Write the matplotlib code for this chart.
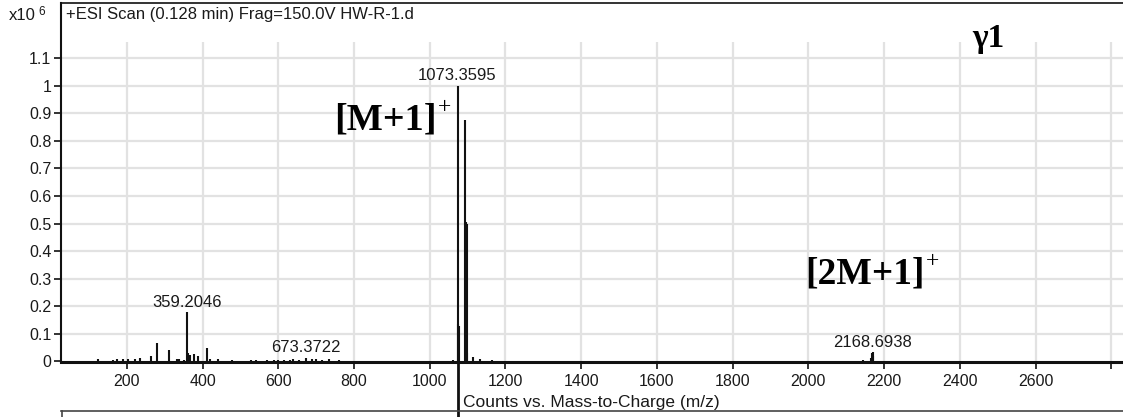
import matplotlib
matplotlib.use("Agg")
import matplotlib.pyplot as plt
from matplotlib.lines import Line2D

# ---- data ----
mz = [124, 164, 173, 190, 203, 221, 234, 265, 280, 312, 332, 337, 352, 359.2046, 361, 366,
      378, 388, 412, 420, 440, 478, 527, 540, 570, 588, 600, 615, 630, 640, 655, 673.3722,
      690, 700, 715, 735, 760,
      1062, 1073.3595, 1075.5, 1076.3, 1092.7, 1094.5, 1096.8, 1097.8, 1099, 1115, 1133, 1165,
      2145, 2166.5, 2168.6938, 2169.7, 2170.7]
intensity = [0.008, 0.006, 0.010, 0.008, 0.010, 0.008, 0.012, 0.020, 0.068, 0.040, 0.008, 0.010,
             0.006, 0.178, 0.030, 0.022, 0.028, 0.020, 0.050, 0.010, 0.010, 0.005, 0.004, 0.004,
             0.004, 0.005, 0.005, 0.006, 0.005, 0.008, 0.006, 0.012, 0.008, 0.010, 0.006, 0.008, 0.006,
             0.006, 1.000, 0.135, 0.130, 0.876, 0.040, 0.505, 0.500, 0.030, 0.016, 0.008, 0.006,
             0.005, 0.012, 0.030, 0.034, 0.020]
labelled_peaks = [359.2046, 673.3722, 1073.3595, 2168.6938]
x_ticks = [200, 400, 600, 800, 1000, 1200, 1400, 1600, 1800, 2000, 2200, 2400, 2600, 2800]
x_tick_labels = ["200", "400", "600", "800", "1000", "1200", "1400", "1600", "1800",
                 "2000", "2200", "2400", "2600", ""]
y_ticks = [0, 0.1, 0.2, 0.3, 0.4, 0.5, 0.6, 0.7, 0.8, 0.9, 1.0, 1.1]
y_tick_labels = ["0", "0.1", "0.2", "0.3", "0.4", "0.5", "0.6", "0.7", "0.8", "0.9", "1", "1.1"]
header = "+ESI Scan (0.128 min) Frag=150.0V HW-R-1.d"
x_label = "Counts vs. Mass-to-Charge (m/z)"

W, H = 1123, 417
fig = plt.figure(figsize=(W / 100, H / 100), dpi=100)
plt.rcParams['font.family'] = ['Liberation Sans', 'DejaVu Sans']

def fx(px):
    return px / W

def fy(py):
    return 1 - py / H

ax_left, ax_right, ax_top, ax_bot = 61, 1123, 3, 362
ax = fig.add_axes([fx(ax_left), fy(ax_bot), fx(ax_right - ax_left), (ax_bot - ax_top) / H])
ax.set_xlim(26, 2831)
ax.set_ylim(-0.002, 1.30)

txtc = "#1a1a1a"
gridc = "#e2e2e2"

# grid
for yv in y_ticks[1:]:
    ax.axhline(yv, color=gridc, lw=1.6, zorder=0)
ax.vlines(x_ticks, 0, 1.159, color=gridc, lw=1.6, zorder=0)

# spectrum sticks
ax.vlines(mz, 0, intensity, color="#111111", lw=1.5, zorder=3)

# peak labels
for m in labelled_peaks:
    h = intensity[mz.index(m)]
    ax.annotate(f"{m:.4f}", (m, h), xytext=(0, 2), textcoords="offset points",
                ha="center", va="bottom", fontsize=12, color=txtc, zorder=4)

# spines
ax.spines["right"].set_visible(False)
ax.spines["top"].set_linewidth(1.2)
ax.spines["left"].set_linewidth(1.5)
ax.spines["bottom"].set_linewidth(2.2)
for s in ["top", "left", "bottom"]:
    ax.spines[s].set_color("#111111")

ax.set_xticks(x_ticks)
ax.set_xticklabels(x_tick_labels)
ax.set_yticks(y_ticks)
ax.set_yticklabels(y_tick_labels)
ax.tick_params(axis="both", direction="out", length=5, width=1.2, colors="#111111",
               labelcolor=txtc, labelsize=11.5, pad=2)
ax.tick_params(axis="x", pad=4)

# cursor line through main peak, down below axis
main_mz = mz[intensity.index(max(intensity))]
ax.vlines(main_mz, -0.2, 0, color="#111111", lw=2, clip_on=False, zorder=5)

# header texts
fig.text(fx(66), fy(15), header, ha="left", va="center", fontsize=12, color=txtc)
fig.text(fx(9), fy(16), "x10", ha="left", va="center", fontsize=12, color=txtc)
fig.text(fx(38), fy(12), "6", ha="left", va="center", fontsize=8.5, color=txtc)

# x label
fig.text(fx(463), fy(403), x_label, ha="left", va="center", fontsize=12.5, color=txtc)

# lower panel box edge
fig.add_artist(Line2D([fx(61), fx(1123)], [fy(411), fy(411)], color="#444444", lw=1.2))
fig.add_artist(Line2D([fx(61.5), fx(61.5)], [fy(411), fy(417)], color="#444444", lw=1.2))

# big annotations
serif = ["Liberation Serif", "DejaVu Serif"]
fig.text(fx(437), fy(130), "[M+1]", ha="right", va="baseline", fontsize=27.5,
         fontweight="bold", family=serif, color="black")
fig.text(fx(438), fy(113), "+", ha="left", va="baseline", fontsize=17,
         family=serif, color="black")
fig.text(fx(925), fy(284), "[2M+1]", ha="right", va="baseline", fontsize=27,
         fontweight="bold", family=serif, color="black")
fig.text(fx(926), fy(267), "+", ha="left", va="baseline", fontsize=17,
         family=serif, color="black")
fig.text(fx(972), fy(47), "γ1", ha="left", va="baseline", fontsize=24,
         fontweight="bold", family=serif, color="black")

fig.savefig("out.png", dpi=100)
